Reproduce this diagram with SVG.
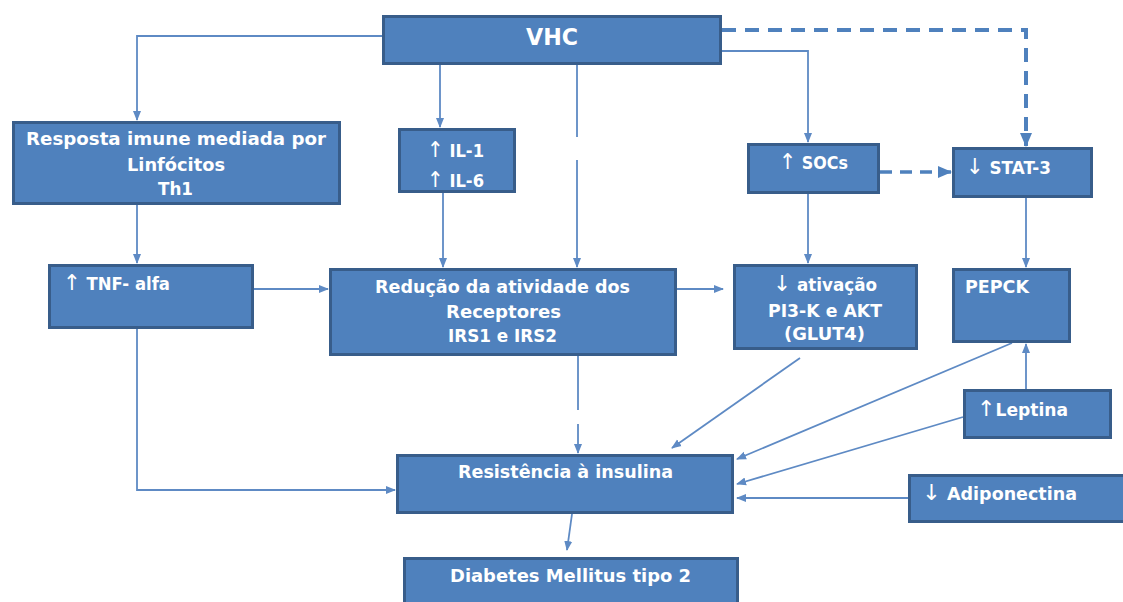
<svg xmlns="http://www.w3.org/2000/svg" width="1123" height="602" viewBox="0 0 1123 602">
<style>
.box{fill:#4F81BD;stroke:#385D8A;stroke-width:3}
.t{fill:#FFFFFF;font-family:"DejaVu Sans","Liberation Sans",Arial,sans-serif;font-weight:bold;font-size:17px}
.ar{font-weight:normal;font-size:22px}
.c{fill:none;stroke:#5E8AC4;stroke-width:1.8;marker-end:url(#ah)}
.d{fill:none;stroke:#4F81BD;stroke-width:4;stroke-dasharray:14 9;marker-end:url(#ahb)}
</style>
<defs>
<marker id="ah" markerUnits="userSpaceOnUse" markerWidth="10" markerHeight="10" viewBox="0 0 10 10" refX="9" refY="5" orient="auto">
<path d="M0 1 L10 5 L0 9 Z" fill="#5E8AC4"/>
</marker>
<marker id="ahb" markerUnits="userSpaceOnUse" markerWidth="14" markerHeight="14" viewBox="0 0 14 14" refX="13" refY="7" orient="auto">
<path d="M0 1 L14 7 L0 13 Z" fill="#4F81BD"/>
</marker>
</defs>
<rect width="1123" height="602" fill="#FFFFFF"/>
<g id="connectors">
<path class="c" d="M382 36 H137 V120"/>
<path class="c" d="M440 65 V127"/>
<path class="c" d="M577 65 V137 M577 160 V267"/>
<path class="c" d="M722 51 H808 V142"/>
<path class="d" d="M722 30 H1026 V146"/>
<path class="c" d="M137 205 V263"/>
<path class="c" d="M443 193 V267"/>
<path class="d" d="M880 172 H951" style="stroke-width:3.5;stroke-dasharray:12 8"/>
<path class="c" d="M808 194 V263"/>
<path class="c" d="M1026 198 V267"/>
<path class="c" d="M254 289 H328"/>
<path class="c" d="M677 289 H723"/>
<path class="c" d="M137 329 V490 H395"/>
<path class="c" d="M578 356 V410 M578 424 V453"/>
<path class="c" d="M800 358 L672 448"/>
<path class="c" d="M1012 343 L737 459"/>
<path class="c" d="M1026 389 V344"/>
<path class="c" d="M963 417 L737 484"/>
<path class="c" d="M908 498 H737"/>
<path class="c" d="M572 514 L567 550"/>
</g>
<g id="vhc">
<rect class="box" x="383.5" y="16.5" width="337" height="47"/>
<text class="t" x="526" y="45" style="font-size:23px" textLength="52" lengthAdjust="spacingAndGlyphs">VHC</text>
</g>
<g id="resposta">
<rect class="box" x="13.5" y="122.5" width="326" height="81"/>
<text class="t" x="26" y="145" textLength="300" lengthAdjust="spacingAndGlyphs">Resposta imune mediada  por</text>
<text class="t" x="127" y="171" textLength="98" lengthAdjust="spacingAndGlyphs">Linfócitos</text>
<text class="t" x="158" y="195" textLength="35" lengthAdjust="spacingAndGlyphs">Th1</text>
</g>
<g id="il">
<rect class="box" x="399.5" y="129.5" width="115" height="62"/>
<text class="t" x="427" y="157" style="font-size:18px" textLength="57" lengthAdjust="spacingAndGlyphs"><tspan class="ar">↑</tspan> IL-1</text>
<text class="t" x="427" y="187" style="font-size:18px" textLength="57" lengthAdjust="spacingAndGlyphs"><tspan class="ar">↑</tspan> IL-6</text>
</g>
<g id="socs">
<rect class="box" x="748.5" y="144.5" width="130" height="48"/>
<text class="t" x="779" y="169" textLength="69" lengthAdjust="spacingAndGlyphs"><tspan class="ar">↑</tspan> SOCs</text>
</g>
<g id="stat3">
<rect class="box" x="953.5" y="148.5" width="138" height="48"/>
<text class="t" x="966" y="174" style="font-size:17.5px" textLength="85" lengthAdjust="spacingAndGlyphs"><tspan class="ar">↓</tspan> STAT-3</text>
</g>
<g id="tnf">
<rect class="box" x="49.5" y="265.5" width="203" height="62"/>
<text class="t" x="63" y="290" textLength="107" lengthAdjust="spacingAndGlyphs"><tspan class="ar">↑</tspan> TNF- alfa</text>
</g>
<g id="reducao">
<rect class="box" x="330.5" y="269.5" width="345" height="85"/>
<text class="t" x="375" y="293" textLength="255" lengthAdjust="spacingAndGlyphs">Redução da atividade dos</text>
<text class="t" x="446" y="318" textLength="115" lengthAdjust="spacingAndGlyphs">Receptores</text>
<text class="t" x="448" y="342" textLength="109" lengthAdjust="spacingAndGlyphs">IRS1 e IRS2</text>
</g>
<g id="ativacao">
<rect class="box" x="734.5" y="265.5" width="182" height="83"/>
<text class="t" x="773" y="291" textLength="104" lengthAdjust="spacingAndGlyphs"><tspan class="ar">↓</tspan> ativação</text>
<text class="t" x="768" y="317" textLength="114" lengthAdjust="spacingAndGlyphs">PI3-K e AKT</text>
<text class="t" x="784" y="340" textLength="81" lengthAdjust="spacingAndGlyphs">(GLUT4)</text>
</g>
<g id="pepck">
<rect class="box" x="953.5" y="269.5" width="116" height="72"/>
<text class="t" x="965" y="293" textLength="64" lengthAdjust="spacingAndGlyphs">PEPCK</text>
</g>
<g id="leptina">
<rect class="box" x="964.5" y="390.5" width="146" height="47"/>
<text class="t" x="977" y="416" textLength="91" lengthAdjust="spacingAndGlyphs"><tspan class="ar">↑</tspan>Leptina</text>
</g>
<g id="resistencia">
<rect class="box" x="397.5" y="455.5" width="335" height="57"/>
<text class="t" x="458" y="478" textLength="215" lengthAdjust="spacingAndGlyphs">Resistência à insulina</text>
</g>
<g id="adiponectina">
<rect class="box" x="909.5" y="475.5" width="222" height="46"/>
<text class="t" x="922" y="500" textLength="155" lengthAdjust="spacingAndGlyphs"><tspan class="ar">↓</tspan> Adiponectina</text>
</g>
<g id="diabetes">
<rect class="box" x="404.5" y="558.5" width="333" height="50"/>
<text class="t" x="450" y="582" textLength="241" lengthAdjust="spacingAndGlyphs">Diabetes Mellitus tipo 2</text>
</g>
</svg>
